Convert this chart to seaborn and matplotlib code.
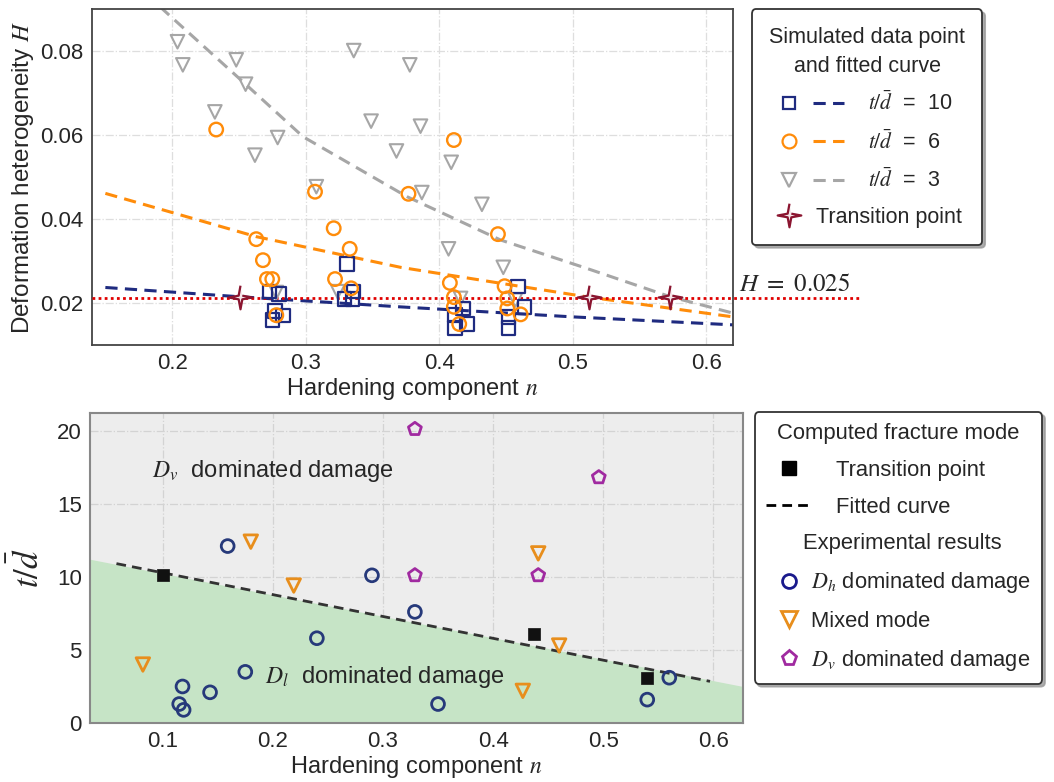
import numpy as np
import pandas as pd
import matplotlib
matplotlib.use("Agg")
import matplotlib.pyplot as plt
import seaborn as sns
from matplotlib.lines import Line2D
from matplotlib.legend_handler import HandlerTuple

# ---------------- top panel data ----------------
sq10_n = [0.273, 0.280, 0.277, 0.283, 0.275, 0.331, 0.336, 0.329, 0.335,
          0.418, 0.412, 0.421, 0.412, 0.459, 0.464, 0.452, 0.452]
sq10_H = [0.0227, 0.0221, 0.0181, 0.0170, 0.0160, 0.0293, 0.0227, 0.0209, 0.0209,
          0.0187, 0.0171, 0.0150, 0.0140, 0.0239, 0.0190, 0.0167, 0.0140]

ci6_n = [0.233, 0.263, 0.268, 0.271, 0.275, 0.278, 0.307, 0.321, 0.322, 0.333, 0.334,
         0.377, 0.408, 0.411, 0.411, 0.411, 0.415, 0.444, 0.449, 0.451, 0.451, 0.461]
ci6_H = [0.0613, 0.0352, 0.0302, 0.0257, 0.0257, 0.0171, 0.0465, 0.0378, 0.0257, 0.0329, 0.0235,
         0.0460, 0.0248, 0.0588, 0.0214, 0.0191, 0.0150, 0.0364, 0.0240, 0.0211, 0.0187, 0.0173]

tri3_n = [0.204, 0.208, 0.232, 0.248, 0.255, 0.262, 0.278, 0.279, 0.308, 0.324, 0.336,
          0.349, 0.368, 0.378, 0.386, 0.387, 0.407, 0.409, 0.416, 0.432, 0.448, 0.457]
tri3_H = [0.0822, 0.0767, 0.0655, 0.0779, 0.0721, 0.0552, 0.0225, 0.0594, 0.0477, 0.0227, 0.0801,
          0.0633, 0.0562, 0.0767, 0.0621, 0.0463, 0.0329, 0.0535, 0.0211, 0.0435, 0.0285, 0.0207]

fit10_n = [0.15, 0.25, 0.37, 0.50, 0.62]
fit10_H = [0.0237, 0.0215, 0.0191, 0.0167, 0.0148]
fit6_n = [0.15, 0.263, 0.371, 0.446, 0.51, 0.62]
fit6_H = [0.0461, 0.0358, 0.0285, 0.0247, 0.0215, 0.0167]
fit3_n = [0.191, 0.255, 0.298, 0.376, 0.446, 0.51, 0.573, 0.62]
fit3_H = [0.0905, 0.0721, 0.0596, 0.0453, 0.0350, 0.0283, 0.0215, 0.0176]

star_n = [0.251, 0.512, 0.573]
star_H = [0.0215, 0.0215, 0.0215]

H_ref = 0.0213
H_ref_label = r"$H\ =\ 0.025$"

top_xticks = [0.2, 0.3, 0.4, 0.5, 0.6]
top_yticks = [0.02, 0.04, 0.06, 0.08]

# ---------------- bottom panel data ----------------
dh_n = [0.159, 0.290, 0.329, 0.240, 0.175, 0.118, 0.143, 0.115, 0.119, 0.350, 0.540, 0.560]
dh_t = [12.1, 10.1, 7.6, 5.8, 3.5, 2.5, 2.1, 1.3, 0.9, 1.3, 1.6, 3.1]
mix_n = [0.082, 0.180, 0.219, 0.441, 0.460, 0.427]
mix_t = [4.0, 12.4, 9.4, 11.6, 5.3, 2.2]
dv_n = [0.329, 0.329, 0.441, 0.496]
dv_t = [20.1, 10.1, 10.1, 16.8]
trans_n = [0.10, 0.437, 0.540]
trans_t = [10.1, 6.1, 3.1]
fitb_n = [0.058, 0.597]
fitb_t = [10.9, 2.85]
fill_n = [0.034, 0.627]
fill_t = [11.2, 2.5]

bot_xticks = [0.1, 0.2, 0.3, 0.4, 0.5, 0.6]
bot_yticks = [0, 5, 10, 15, 20]

# ---------------- style ----------------
sns.set_theme(style="white")
plt.rcParams['font.family'] = ['Liberation Sans', 'DejaVu Sans']
plt.rcParams['mathtext.fontset'] = 'stix'

c10 = '#1f2b80'
c6 = '#ff8c0a'
c3 = '#a6a6a6'
cstar = '#8b1530'
c_dh = '#26397a'
c_mix = '#e88e1c'
c_dv = '#a02aa0'

# thin four-pointed star marker
_ang = np.deg2rad(np.arange(8) * 45.0 + 90.0)
_rad = np.array([1.0, 0.22] * 4)
star_marker = np.column_stack([_rad * np.cos(_ang), _rad * np.sin(_ang)])


def set_row_width(leg, idx, width_pt):
    try:
        rows = [r for col in leg._legend_handle_box.get_children()
                for r in col.get_children()]
        rows[idx].get_children()[0].width = width_pt
    except Exception:
        pass


fig = plt.figure(figsize=(10.54, 7.82), dpi=100)
ax1 = fig.add_axes([0.0873, 0.5588, 0.6081, 0.4297])
ax2 = fig.add_axes([0.0854, 0.0754, 0.6196, 0.3965])

# ---------------- top panel ----------------
ax1.set_facecolor('white')
ax1.grid(True, linestyle='-.', color='#dedede', linewidth=0.9)
ax1.set_axisbelow(True)

dash = (0, (4, 2.4))
sns.lineplot(x=fit3_n, y=fit3_H, ax=ax1, color=c3, lw=2.2, linestyle=dash,
             sort=False, estimator=None, zorder=2)
sns.lineplot(x=fit6_n, y=fit6_H, ax=ax1, color=c6, lw=2.2, linestyle=dash,
             sort=False, estimator=None, zorder=2)
sns.lineplot(x=fit10_n, y=fit10_H, ax=ax1, color=c10, lw=2.2, linestyle=dash,
             sort=False, estimator=None, zorder=2)

ax1.plot([0.14, 0.717], [H_ref, H_ref], color='#e00000', lw=2.0, linestyle=(0, (1, 1.2)),
         clip_on=False, zorder=3)

sns.scatterplot(x=tri3_n, y=tri3_H, ax=ax1, marker='v', s=95, facecolor='none',
                edgecolor=c3, linewidth=1.5, zorder=4)
sns.scatterplot(x=ci6_n, y=ci6_H, ax=ax1, marker='o', s=95, facecolor='none',
                edgecolor=c6, linewidth=1.7, zorder=5)
sns.scatterplot(x=sq10_n, y=sq10_H, ax=ax1, marker='s', s=95, facecolor='none',
                edgecolor=c10, linewidth=1.6, zorder=4)
ax1.plot(star_n, star_H, ls='none', marker=star_marker, ms=17, mfc='#f4e6ea', mec=cstar,
         mew=1.6, zorder=6)

ax1.set_xlim(0.14, 0.62)
ax1.set_ylim(0.01, 0.09)
ax1.set_xticks(top_xticks)
ax1.set_yticks(top_yticks)
ax1.set_xticklabels([f"{v:g}" for v in top_xticks])
ax1.set_yticklabels([f"{v:g}" for v in top_yticks])
ax1.tick_params(length=0, labelsize=16, pad=6)
ax1.set_xlabel(r"Hardening component $n$", fontsize=17, labelpad=1)
ax1.set_ylabel(r"Deformation heterogeneity $H$", fontsize=17.5, labelpad=3)
for sp in ax1.spines.values():
    sp.set_color('#444444')
    sp.set_linewidth(1.3)

ax1.text(1.01, 0.0245, H_ref_label, transform=ax1.get_yaxis_transform(),
         fontsize=18, va='center', ha='left')


def tup(marker, col, ms):
    return (Line2D([], [], marker=marker, ls='none', mfc='none', mec=col, mew=1.6, ms=ms),
            Line2D([], [], color=col, lw=2.2, linestyle=dash))


h_star = (Line2D([], [], marker=star_marker, ls='none', ms=17, mfc='#f4e6ea', mec=cstar, mew=1.6),
          Line2D([], [], ls='none'))
leg1 = ax1.legend(handles=[tup('s', c10, 9), tup('o', c6, 10), tup('v', c3, 10.5), h_star],
                  labels=[r"$t/\bar{d}$  =  10", r"$t/\bar{d}$  =  6", r"$t/\bar{d}$  =  3",
                          "Transition point"],
                  handler_map={tuple: HandlerTuple(ndivide=2, pad=0.4)},
                  title="Simulated data point\nand fitted curve",
                  loc='upper left', bbox_to_anchor=(0.7135, 0.988),
                  bbox_transform=fig.transFigure, fontsize=15.5, title_fontsize=15.5,
                  frameon=True, fancybox=True, shadow={'color': '#9a9a9a', 'alpha': 0.8},
                  handlelength=3.3, borderpad=0.8, labelspacing=0.68, handletextpad=1.1,
                  borderaxespad=0)
leg1.get_title().set_multialignment('center')
leg1.get_title().set_linespacing(1.5)
leg1.get_frame().set_edgecolor('#333333')
leg1.get_frame().set_linewidth(1.3)
set_row_width(leg1, 3, 13.7)

# ---------------- bottom panel ----------------
ax2.set_facecolor('#ededed')
ax2.grid(True, linestyle='-.', color='#d3d3d3', linewidth=0.9)
ax2.set_axisbelow(True)
ax2.fill_between(fill_n, fill_t, 0, color='#c6e4c6', lw=0, zorder=1)

sns.lineplot(x=fitb_n, y=fitb_t, ax=ax2, color='#333333', lw=2.0, linestyle=(0, (3.5, 2.2)),
             sort=False, estimator=None, zorder=3)
sns.scatterplot(x=dh_n, y=dh_t, ax=ax2, marker='o', s=85, facecolor='none',
                edgecolor=c_dh, linewidth=2.0, zorder=4)
sns.scatterplot(x=mix_n, y=mix_t, ax=ax2, marker='v', s=95, facecolor='none',
                edgecolor=c_mix, linewidth=2.0, zorder=4)
sns.scatterplot(x=dv_n, y=dv_t, ax=ax2, marker='p', s=95, facecolor='none',
                edgecolor=c_dv, linewidth=2.0, zorder=4)
sns.scatterplot(x=trans_n, y=trans_t, ax=ax2, marker='s', s=85, color='#111111',
                edgecolor='#111111', linewidth=0.5, zorder=5)

ax2.text(0.09, 17.2, r"$D_v$  dominated damage", fontsize=17, va='center', ha='left', zorder=6)
ax2.text(0.193, 3.15, r"$D_l$  dominated damage", fontsize=17, va='center', ha='left', zorder=6)

ax2.set_xlim(0.034, 0.627)
ax2.set_ylim(0, 21.2)
ax2.set_xticks(bot_xticks)
ax2.set_yticks(bot_yticks)
ax2.set_xticklabels([f"{v:g}" for v in bot_xticks])
ax2.set_yticklabels([f"{v:g}" for v in bot_yticks])
ax2.tick_params(length=0, labelsize=16, pad=6)
ax2.set_xlabel(r"Hardening component $n$", fontsize=17, labelpad=1)
ax2.set_ylabel(r"$t/\bar{d}$", fontsize=25, labelpad=8)
for sp in ax2.spines.values():
    sp.set_color('#888888')
    sp.set_linewidth(1.5)

blank = Line2D([], [], ls='none')
h2 = [Line2D([], [], marker='s', ls='none', mfc='black', mec='black', ms=9.5),
      Line2D([], [], color='black', lw=2.0, linestyle=(0, (3.5, 2.2))),
      blank,
      Line2D([], [], marker='o', ls='none', mfc='none', mec='#1a1a8c', mew=2.0, ms=10),
      Line2D([], [], marker='v', ls='none', mfc='none', mec=c_mix, mew=2.0, ms=11),
      Line2D([], [], marker='p', ls='none', mfc='none', mec=c_dv, mew=2.0, ms=11)]
l2 = ["Transition point", "Fitted curve", "Experimental results",
      r"$D_h$ dominated damage", "Mixed mode", r"$D_v$ dominated damage"]
leg2 = ax2.legend(handles=h2, labels=l2, title="Computed fracture mode",
                  loc='upper left', bbox_to_anchor=(0.716, 0.473),
                  bbox_transform=fig.transFigure, fontsize=15.8, title_fontsize=15.8,
                  frameon=True, fancybox=True, shadow={'color': '#9a9a9a', 'alpha': 0.8},
                  handlelength=2.1, borderpad=0.5, labelspacing=0.72, handletextpad=0.76,
                  borderaxespad=0)
leg2.get_frame().set_edgecolor('#333333')
leg2.get_frame().set_linewidth(1.3)
leg2.get_frame().set_facecolor('white')
set_row_width(leg2, 0, 38.8)
set_row_width(leg2, 1, 38.8)
set_row_width(leg2, 2, 15.0)
set_row_width(leg2, 3, 20.7)
set_row_width(leg2, 4, 20.7)
set_row_width(leg2, 5, 20.7)

fig.savefig("out.png", dpi=100)
